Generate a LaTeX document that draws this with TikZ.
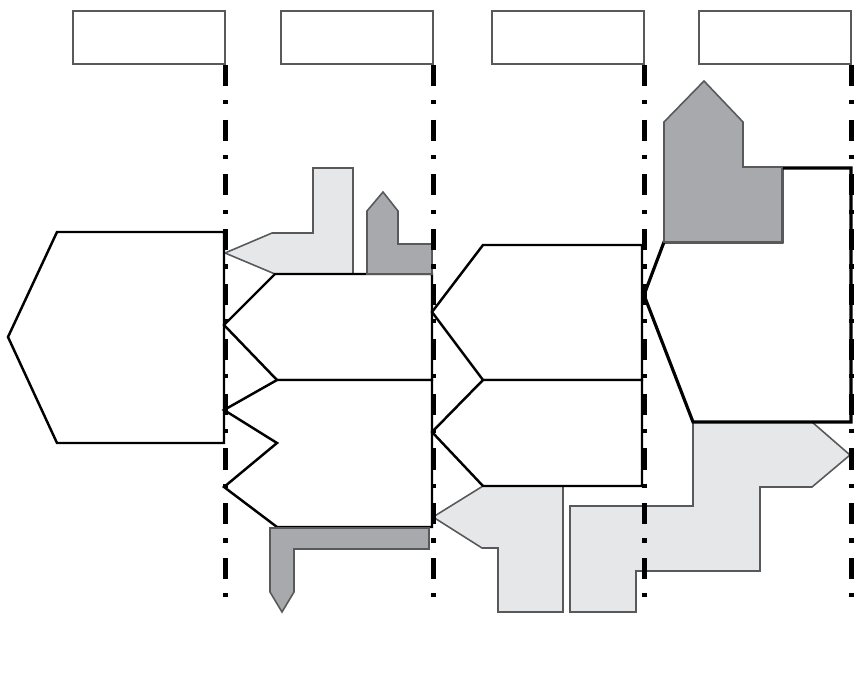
\documentclass[tikz,border=0pt]{standalone}
\usepackage{tikz}
\usepackage{xcolor}
\usetikzlibrary{positioning,calc}
\definecolor{GL}{HTML}{E6E7E8}
\definecolor{GD}{HTML}{A7A9AC}
\definecolor{GE}{HTML}{58595B}

\begin{document}
\begin{tikzpicture}[x=0.02cm, y=-0.02cm,
    blk/.style={draw=black, fill=white, line width=1.4pt},
    blkthick/.style={blk, line width=1.8pt},
    lite/.style={draw=GE, fill=GL, line width=0.9pt},
    dark/.style={draw=GE, fill=GD, line width=0.9pt},
    lane/.style={draw=black, line width=2.6pt,
                 dash pattern=on 12pt off 8pt on 2.4pt off 8.8pt},
    head/.style={draw=GE, line width=1pt, minimum width=3.04cm,
                 minimum height=1.06cm, inner sep=0pt, anchor=north west}]

        \useasboundingbox (0,0) rectangle (863,690);

        %% ── header boxes ─────────────────────────────
        \foreach \x [count=\i] in {72,280,491,698}{
          \node[head] (h\i) at (\x,10) {};
        }

        %% ── light shapes FIRST (behind blocks) ──────

        %% column 2, upper arrow
        \draw[lite] (225,253) -- (272,233) -- (313,233) -- (313,168)
          -- (353,168) -- (353,274) -- (275,274) -- cycle;

        %% column 3, lower arrow
        \draw[lite] (483,486) -- (433,517) -- (482,548) -- (498,548)
          -- (498,612) -- (563,612) -- (563,486) -- cycle;

        %% column 3 to 4, stepped arrow
        \draw[lite] (570,506) -- (693,506) -- (693,422) -- (812,422)
          -- (850,455) -- (812,487) -- (760,487) -- (760,571)
          -- (636,571) -- (636,612) -- (570,612) -- cycle;

        %% ── blocks ──────────────────────────────────

        %% column 1
        \draw[blk] (224,232) -- (57,232) -- (8,337) -- (57,443)
          -- (224,443) -- cycle;

        %% column 2
        \draw[blk] (275,274) -- (224,325) -- (277,380) -- (432,380)
          -- (432,274) -- cycle;
        \draw[blk] (277,380) -- (224,410) -- (277,443) -- (224,487)
          -- (277,527) -- (432,527) -- (432,380) -- cycle;

        %% column 3
        \draw[blk] (483,245) -- (432,312) -- (483,380) -- (642,380)
          -- (642,245) -- cycle;
        \draw[blk] (483,380) -- (432,432) -- (483,486) -- (642,486)
          -- (642,380) -- cycle;

        %% column 4
        \draw[blkthick] (664,242) -- (644,295) -- (693,422) -- (851,422)
          -- (851,168) -- (782,168) -- (782,242) -- cycle;

        %% ── dark shapes ON TOP ──────────────────────
        \draw[dark] (367,211) -- (383,192) -- (398,211) -- (398,244)
          -- (432,244) -- (432,274) -- (367,274) -- cycle;
        \draw[dark] (270,528) -- (429,528) -- (429,549) -- (294,549)
          -- (294,592) -- (282,612) -- (270,592) -- cycle;
        \draw[dark] (704,81) -- (743,122) -- (743,167) -- (782,167)
          -- (782,242) -- (664,242) -- (664,122) -- cycle;

        %% ── lanes under the header boxes ────────────
        \foreach \i in {1,2,3,4}{
          \coordinate (e\i) at (h\i.south east |- 0,600);
          \draw[lane] (h\i.south east) -- (e\i);
        }

      \end{tikzpicture}
\end{document}
